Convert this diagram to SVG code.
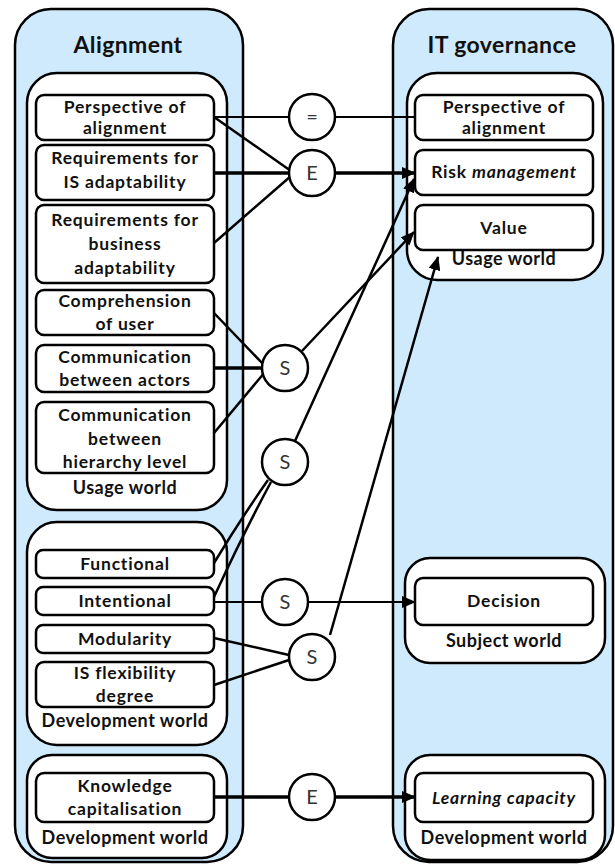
<svg xmlns="http://www.w3.org/2000/svg" width="615" height="865" viewBox="0 0 615 865">
  <defs>
    <style>
      .lane { fill: #cfeafc; stroke: #000; stroke-width: 2.5; }
      .world { fill: #fff; stroke: #000; stroke-width: 2.5; }
      .box { fill: #fff; stroke: #000; stroke-width: 2.5; }
      .op { fill: #fff; stroke: #000; stroke-width: 2.5; }
      .title { font-family: Lato, "Liberation Sans", sans-serif; font-weight: bold; font-size: 23px; letter-spacing: 0.4px; fill: #111; text-anchor: middle; }
      .lbl { font-family: Lato, "Liberation Sans", sans-serif; font-weight: bold; font-size: 17.5px; letter-spacing: 0.8px; fill: #111; text-anchor: middle; }
      .wl { font-family: Lato, "Liberation Sans", sans-serif; font-weight: bold; font-size: 18px; letter-spacing: 0.5px; fill: #111; text-anchor: middle; }
      .sym { font-family: Lato, "Liberation Sans", sans-serif; font-size: 20px; fill: #333; text-anchor: middle; }
      .thin { stroke: #000; stroke-width: 2; fill: none; }
      .mid { stroke: #000; stroke-width: 2.5; fill: none; }
      .thick { stroke: #000; stroke-width: 3.5; fill: none; }
    </style>
    <marker id="arrow" markerUnits="userSpaceOnUse" markerWidth="14" markerHeight="12" refX="13" refY="6" orient="auto">
      <path d="M0,0 L14,6 L0,12 z" fill="#000"/>
    </marker>
  </defs>

  <rect width="615" height="865" fill="#fff"/>

  <!-- Alignment lane -->
  <g id="alignment">
    <rect class="lane" x="15" y="9" width="228" height="853" rx="36"/>
    <text class="title" x="128" y="53">Alignment</text>
  </g>

  <!-- IT governance lane -->
  <g id="it-governance">
    <rect class="lane" x="393" y="9" width="220" height="853" rx="36"/>
    <text class="title" x="502" y="53">IT governance</text>
  </g>

  <!-- Alignment: usage world -->
  <g id="al-usage-world">
    <rect class="world" x="27" y="73" width="200" height="437" rx="30"/>
    <text class="wl" x="125" y="494">Usage world</text>
  </g>
  <g id="al-perspective">
    <rect class="box" x="36" y="95" width="178" height="45" rx="8"/>
    <text class="lbl" x="125" y="113">Perspective of</text>
    <text class="lbl" x="125" y="134">alignment</text>
  </g>
  <g id="al-req-is">
    <rect class="box" x="36" y="145" width="178" height="55" rx="8"/>
    <text class="lbl" x="125" y="164">Requirements for</text>
    <text class="lbl" x="125" y="188">IS adaptability</text>
  </g>
  <g id="al-req-business">
    <rect class="box" x="36" y="205" width="178" height="78" rx="8"/>
    <text class="lbl" x="125" y="226">Requirements for</text>
    <text class="lbl" x="125" y="250">business</text>
    <text class="lbl" x="125" y="274">adaptability</text>
  </g>
  <g id="al-comprehension">
    <rect class="box" x="36" y="290" width="178" height="45" rx="8"/>
    <text class="lbl" x="125" y="307">Comprehension</text>
    <text class="lbl" x="125" y="330">of user</text>
  </g>
  <g id="al-comm-actors">
    <rect class="box" x="36" y="345" width="178" height="47" rx="8"/>
    <text class="lbl" x="125" y="363">Communication</text>
    <text class="lbl" x="125" y="386">between actors</text>
  </g>
  <g id="al-comm-hierarchy">
    <rect class="box" x="36" y="402" width="178" height="71" rx="8"/>
    <text class="lbl" x="125" y="421">Communication</text>
    <text class="lbl" x="125" y="445">between</text>
    <text class="lbl" x="125" y="468">hierarchy level</text>
  </g>

  <!-- Alignment: development world -->
  <g id="al-dev-world">
    <rect class="world" x="27" y="522" width="200" height="223" rx="30"/>
    <text class="wl" x="125" y="727">Development world</text>
  </g>
  <g id="al-functional">
    <rect class="box" x="36" y="550" width="178" height="28" rx="7"/>
    <text class="lbl" x="125" y="570">Functional</text>
  </g>
  <g id="al-intentional">
    <rect class="box" x="36" y="587" width="178" height="28" rx="7"/>
    <text class="lbl" x="125" y="607">Intentional</text>
  </g>
  <g id="al-modularity">
    <rect class="box" x="36" y="625" width="178" height="28" rx="7"/>
    <text class="lbl" x="125" y="645">Modularity</text>
  </g>
  <g id="al-is-flex">
    <rect class="box" x="36" y="662" width="178" height="45" rx="8"/>
    <text class="lbl" x="125" y="679">IS flexibility</text>
    <text class="lbl" x="125" y="702">degree</text>
  </g>

  <!-- Alignment: development world (knowledge) -->
  <g id="al-dev-world-2">
    <rect class="world" x="27" y="755" width="200" height="103" rx="25"/>
    <text class="wl" x="125" y="844">Development world</text>
  </g>
  <g id="al-knowledge">
    <rect class="box" x="36" y="773" width="178" height="49" rx="8"/>
    <text class="lbl" x="125" y="792">Knowledge</text>
    <text class="lbl" x="125" y="815">capitalisation</text>
  </g>

  <!-- IT governance: usage world -->
  <g id="itg-usage-world">
    <rect class="world" x="407" y="73" width="196" height="207" rx="30"/>
    <text class="wl" x="504" y="265">Usage world</text>
  </g>
  <g id="itg-perspective">
    <rect class="box" x="415" y="95" width="178" height="45" rx="8"/>
    <text class="lbl" x="504" y="113">Perspective of</text>
    <text class="lbl" x="504" y="134">alignment</text>
  </g>
  <g id="itg-risk">
    <rect class="box" x="415" y="150" width="178" height="45" rx="8"/>
    <text class="lbl" x="504" y="178">Risk <tspan font-style="italic">management</tspan></text>
  </g>
  <g id="itg-value">
    <rect class="box" x="415" y="205" width="178" height="45" rx="8"/>
    <text class="lbl" x="504" y="234">Value</text>
  </g>

  <!-- IT governance: subject world -->
  <g id="itg-subject-world">
    <rect class="world" x="405" y="558" width="200" height="105" rx="25"/>
    <text class="wl" x="504" y="647">Subject world</text>
  </g>
  <g id="itg-decision">
    <rect class="box" x="415" y="578" width="178" height="47" rx="8"/>
    <text class="lbl" x="504" y="607" font-size="16">Decision</text>
  </g>

  <!-- IT governance: development world -->
  <g id="itg-dev-world">
    <rect class="world" x="405" y="755" width="200" height="105" rx="25"/>
    <text class="wl" x="504" y="844">Development world</text>
  </g>
  <g id="itg-learning">
    <rect class="box" x="415" y="773" width="178" height="49" rx="8"/>
    <text class="lbl" x="504" y="804" font-style="italic">Learning capacity</text>
  </g>

  <!-- Connectors -->
  <g id="connectors">
    <line class="thin" x1="214" y1="117" x2="289" y2="117"/>
    <line class="thin" x1="335" y1="117" x2="415" y2="117"/>
    <line class="mid" x1="214" y1="117" x2="291" y2="171"/>
    <line class="thick" x1="214" y1="173" x2="289" y2="173"/>
    <line class="mid" x1="214" y1="243" x2="291" y2="176"/>
    <line class="thick" x1="335" y1="173" x2="415" y2="173" marker-end="url(#arrow)"/>

    <line class="mid" x1="214" y1="313" x2="264" y2="365"/>
    <line class="thick" x1="214" y1="368" x2="262" y2="368"/>
    <line class="mid" x1="214" y1="433" x2="265" y2="372"/>
    <line class="mid" x1="302" y1="351" x2="414" y2="232" marker-end="url(#arrow)"/>

    <line class="mid" x1="295" y1="441" x2="414" y2="179" marker-end="url(#arrow)"/>
    <path class="mid" d="M214,563 Q240,520 268,480"/>
    <path class="mid" d="M214,597 Q245,530 271,482"/>

    <line class="thin" x1="214" y1="602" x2="262" y2="602"/>
    <line class="thin" x1="308" y1="602" x2="415" y2="602" marker-end="url(#arrow)"/>

    <line class="mid" x1="214" y1="638" x2="289" y2="655"/>
    <line class="mid" x1="214" y1="685" x2="289" y2="660"/>
    <line class="mid" x1="330" y1="635" x2="438" y2="257" marker-end="url(#arrow)"/>

    <line class="thick" x1="214" y1="797" x2="289" y2="797"/>
    <line class="thick" x1="335" y1="797" x2="415" y2="797" marker-end="url(#arrow)"/>
  </g>

  <!-- Operators -->
  <g id="op-equal"><circle class="op" cx="312" cy="117" r="23"/><text class="sym" x="312" y="124">=</text></g>
  <g id="op-e1"><circle class="op" cx="312" cy="173" r="23"/><text class="sym" x="312" y="180">E</text></g>
  <g id="op-s1"><circle class="op" cx="285" cy="368" r="23"/><text class="sym" x="285" y="375">S</text></g>
  <g id="op-s2"><circle class="op" cx="285" cy="462" r="23"/><text class="sym" x="285" y="469">S</text></g>
  <g id="op-s3"><circle class="op" cx="285" cy="602" r="23"/><text class="sym" x="285" y="609">S</text></g>
  <g id="op-s4"><circle class="op" cx="312" cy="657" r="23"/><text class="sym" x="312" y="664">S</text></g>
  <g id="op-e2"><circle class="op" cx="312" cy="797" r="23"/><text class="sym" x="312" y="804">E</text></g>
</svg>
